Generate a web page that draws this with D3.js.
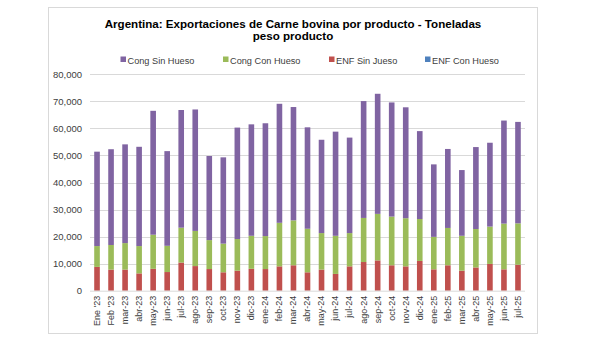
<!DOCTYPE html>
<html><head><meta charset="utf-8">
<script src="https://cdn.jsdelivr.net/npm/d3@7"></script>
<style>
html,body{margin:0;padding:0;background:#fff;}
svg{display:block;font-family:"Liberation Sans",Arial,sans-serif;}
</style></head>
<body><svg id="chart" width="600" height="356"></svg>
<script>
const months = ["Ene '23","Feb '23","mar-23","abr-23","may-23","jun-23","jul-23","ago-23","sep-23","oct-23","nov-23","dic-23",
"ene-24","feb-24","mar-24","abr-24","may-24","jun-24","jul-24","ago-24","sep-24","oct-24","nov-24","dic-24",
"ene-25","feb-25","mar-25","abr-25","may-25","jun-25","jul-25"];
// ENF Sin Jueso (red)
const enfSinJueso = [8800,7800,7800,6400,8100,6900,10400,9100,8000,6800,7400,8100,
8000,9000,9400,6800,7800,6200,9000,10600,11200,9400,9000,11000,
7900,9400,7400,8600,9900,7900,9600];
// ENF Con Hueso (blue) - not visible
const enfConHueso = [0,0,0,0,0,0,0,0,0,0,0,0,0,0,0,0,0,0,0,0,0,0,0,0,0,0,0,0,0,0,0];
// Cong Con Hueso (green)
const congConHueso = [7700,9100,9800,10100,12600,9700,12900,13000,10700,10600,11700,12200,
12200,16100,16600,16100,13500,14100,12300,16300,17200,18000,17800,15500,
12000,13800,12900,14200,13800,16900,15300];
// Cong Sin Hueso (purple)
const congSinHueso = [34900,35400,36500,36700,45800,35000,43500,44900,31100,31900,41200,41200,
41700,44000,41900,37500,34500,38500,35300,43200,44400,42200,41000,32500,
26800,29200,24300,30300,31000,38100,37500];
const yTicks = [0,10000,20000,30000,40000,50000,60000,70000,80000];
const seriesNames = ["Cong Sin Hueso","Cong Con Hueso","ENF Sin Jueso","ENF Con Hueso"];
const colors = {"Cong Sin Hueso":"#8064A2","Cong Con Hueso":"#9BBB59","ENF Sin Jueso":"#C0504D","ENF Con Hueso":"#4F81BD"};

const rows = months.map((m,i)=>({m, "ENF Sin Jueso":enfSinJueso[i], "ENF Con Hueso":enfConHueso[i],
  "Cong Con Hueso":congConHueso[i], "Cong Sin Hueso":congSinHueso[i]}));
const stackKeys = ["ENF Sin Jueso","ENF Con Hueso","Cong Con Hueso","Cong Sin Hueso"];
const stacked = d3.stack().keys(stackKeys)(rows);

const svg = d3.select("#chart");
// frame
svg.append("rect").attr("x",48.5).attr("y",7.5).attr("width",489).attr("height",326)
  .attr("fill","#fff").attr("stroke","#d9d9d9").attr("stroke-width",1);

const x = d3.scaleBand().domain(months).range([90,525]).paddingInner(0.6).paddingOuter(0.3);
const y = d3.scaleLinear().domain([0,80000]).range([290.7,74.3]);

// title
const title = svg.append("text").attr("text-anchor","middle").attr("font-weight","bold")
  .attr("font-size","11.6px").attr("fill","#000");
title.append("tspan").attr("x",293).attr("y",27.5).text("Argentina: Exportaciones de Carne bovina por producto - Toneladas");
title.append("tspan").attr("x",293).attr("y",40).text("peso producto");

// grid
svg.append("g").selectAll("line").data(yTicks.filter(d=>d>0)).join("line")
  .attr("x1",90).attr("x2",525).attr("y1",d=>Math.round(y(d))+0.5).attr("y2",d=>Math.round(y(d))+0.5)
  .attr("stroke","#d9d9d9").attr("stroke-width",1);

// y axis labels
const yAxis = d3.axisLeft(y).tickValues(yTicks).tickSize(0).tickPadding(8).tickFormat(d3.format(","));
const gy = svg.append("g").attr("transform","translate(90,0)").call(yAxis);
gy.select(".domain").remove();
gy.selectAll("text").attr("font-size","9.5px").attr("fill","#404040").attr("font-family","Liberation Sans, Arial, sans-serif");

// bars
svg.append("g").selectAll("g").data(stacked).join("g").attr("fill",d=>colors[d.key])
  .selectAll("rect").data(d=>d).join("rect")
  .attr("x",d=>x(d.data.m)).attr("width",x.bandwidth())
  .attr("y",d=>y(d[1])).attr("height",d=>Math.max(0,y(d[0])-y(d[1])));

// x axis
const xAxis = d3.axisBottom(x).tickSize(0).tickPadding(0);
const gx = svg.append("g").attr("transform",`translate(0,${y(0)})`).call(xAxis);
gx.select(".domain").attr("d","M90,0.5H525").attr("stroke","#d9d9d9");
gx.selectAll("text").attr("font-size","9px").attr("fill","#404040")
  .attr("font-family","Liberation Sans, Arial, sans-serif")
  .attr("transform","rotate(-90)").attr("text-anchor","end").attr("dy","0.32em").attr("x",-5).attr("y",0);

// legend
const legX = [120.5,223,329,425];
const leg = svg.append("g").selectAll("g").data(seriesNames).join("g")
  .attr("transform",(d,i)=>`translate(${legX[i]},61)`);
leg.append("rect").attr("x",0).attr("y",-4.5).attr("width",5.5).attr("height",5.5).attr("fill",d=>colors[d]);
leg.append("text").attr("x",7).attr("y",3).attr("font-size","9.2px").attr("fill","#404040").text(d=>d);
</script></body></html>
